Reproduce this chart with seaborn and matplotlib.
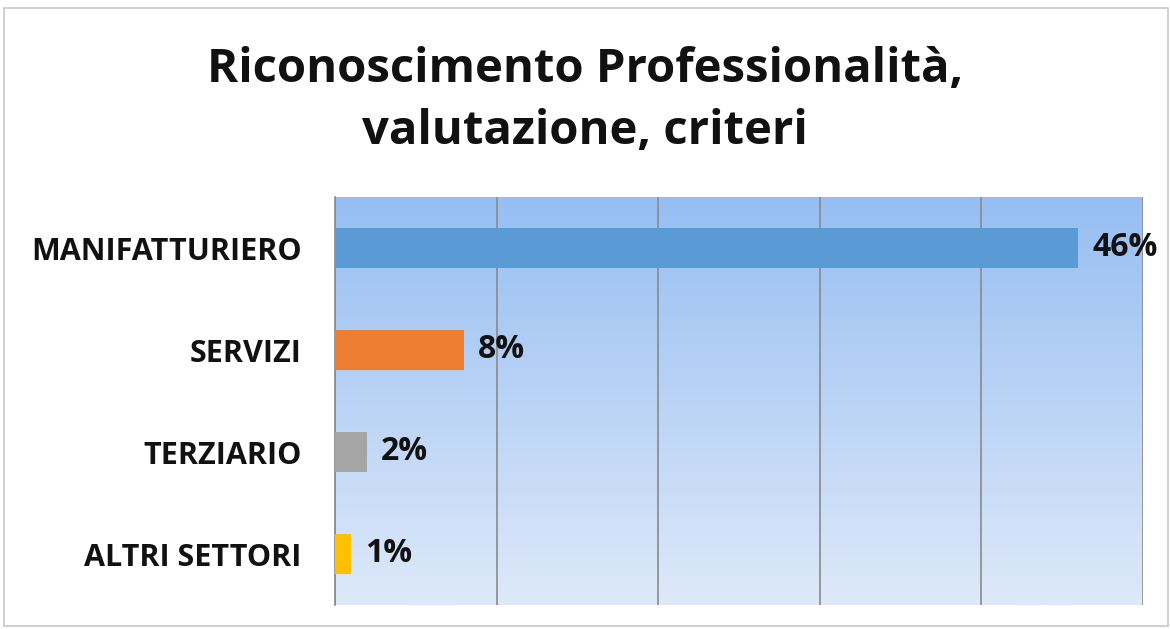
import matplotlib
matplotlib.use("Agg")
import matplotlib.pyplot as plt
import seaborn as sns
import numpy as np
import pandas as pd
from matplotlib.patches import Rectangle

categories = ["MANIFATTURIERO", "SERVIZI", "TERZIARIO", "ALTRI SETTORI"]
values = [0.46, 0.08, 0.02, 0.01]
value_labels = ["46%", "8%", "2%", "1%"]
colors = ["#5B9BD5", "#ED7D31", "#A5A5A5", "#FFC000"]
title_lines = ["Riconoscimento Professionalità,", "valutazione, criteri"]

sns.set_theme(style="white")
plt.rcParams["font.family"] = ["Open Sans", "DejaVu Sans"]

df = pd.DataFrame({"cat": categories, "val": values})

fig = plt.figure(figsize=(11.7, 6.29), dpi=100)
fig.patches.append(Rectangle((4/1170, 1-626/629), 1164/1170, 618/629, transform=fig.transFigure,
                             fill=False, edgecolor="#c8c8c8", linewidth=1.2))
ax = fig.add_axes([335/1170, 1-605/629, (1143-335)/1170, (605-197)/629])

# gradient background
grad = np.linspace(0, 1, 256).reshape(-1, 1)
top = np.array([150, 190, 242]) / 255
bot = np.array([222, 233, 249]) / 255
img = top[None, None, :] * (1 - grad[:, :, None]) + bot[None, None, :] * grad[:, :, None]
ax.imshow(img, extent=[0, 0.5, 3.5, -0.5], aspect="auto", zorder=0)

sns.barplot(data=df, x="val", y="cat", hue="cat", palette=colors, legend=False,
            orient="h", width=0.4, ax=ax, zorder=3, saturation=1, linewidth=0, edgecolor="none")

ax.set_xlim(0, 0.5)
ax.set_ylim(3.5, -0.5)
ax.set_xticks(np.arange(0, 0.51, 0.1))
ax.xaxis.grid(True, color="#8a8a8a", linewidth=1.2, zorder=1)
ax.set_axisbelow(True)
ax.tick_params(axis="x", length=0, labelbottom=False)
ax.set_xlabel("")
ax.set_ylabel("")

for s in ["top", "right", "bottom"]:
    ax.spines[s].set_visible(False)
ax.spines["left"].set_color("#8a8a8a")
ax.spines["left"].set_linewidth(1.2)

ax.set_yticks(range(len(categories)))
ax.set_yticklabels(categories, fontsize=22, fontweight="bold", color="#111111")
ax.tick_params(axis="y", length=0, pad=24)
ax.set_yticks(np.arange(-0.5, 3.6, 1), minor=True)
ax.tick_params(axis="y", which="minor", length=7, color="#8a8a8a", width=1.2, direction="out")

for i, (v, lab) in enumerate(zip(values, value_labels)):
    ax.text(v + 0.0085, i, lab, va="center", ha="left", fontsize=23, fontweight="bold", color="#111111", zorder=4)

fig.text(0.5, 1-70/629, title_lines[0], ha="center", va="center", fontsize=34, fontweight="bold", color="#111111")
fig.text(0.5, 1-132/629, title_lines[1], ha="center", va="center", fontsize=34, fontweight="bold", color="#111111")

fig.savefig("out.png", dpi=100)
